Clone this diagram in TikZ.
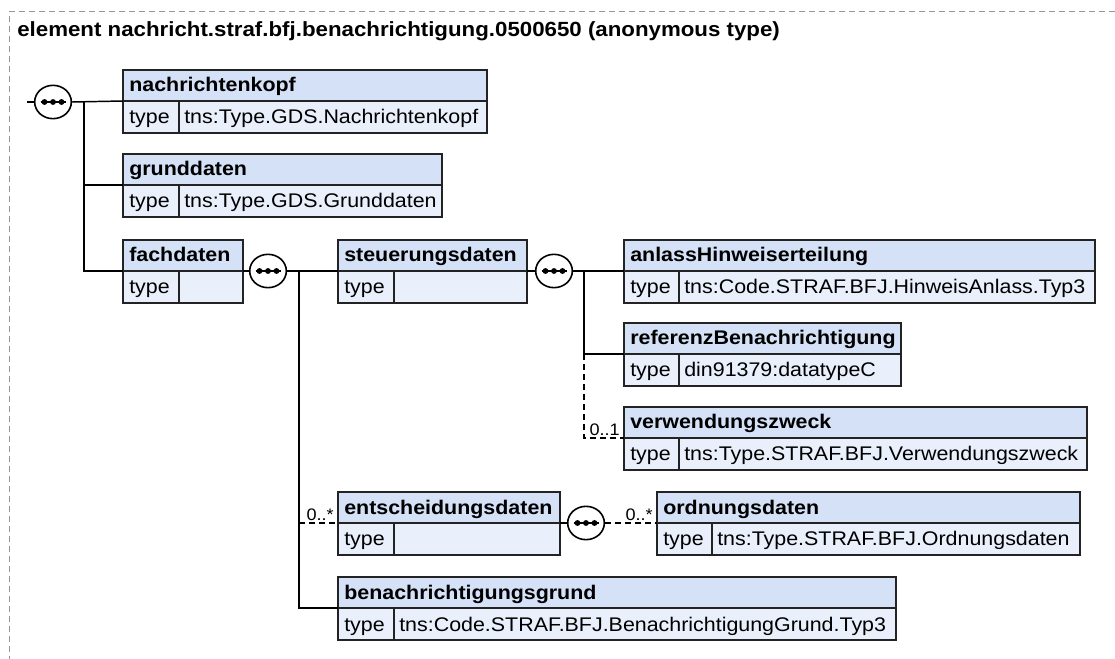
\documentclass[tikz,border=0pt]{standalone}
\usepackage{fontspec}
\setmainfont{Liberation Sans}
\usetikzlibrary{shapes.geometric}
\definecolor{hdrfill}{RGB}{212,225,246}
\definecolor{rowfill}{RGB}{233,240,252}
\definecolor{boxline}{RGB}{35,35,35}
\definecolor{framecol}{RGB}{150,150,150}
\tikzset{
  boxedge/.style={draw=boxline, line width=1.6pt},
  conn/.style={draw=black, line width=1.1pt},
  optconn/.style={conn, dash pattern=on 4.5pt off 3pt},
  txt/.style={inner sep=0pt, xscale=1.085, transform shape, font=\fontsize{14.8}{17}\selectfont, anchor=base west},
  hdtxt/.style={txt, font=\fontsize{14.8}{17}\selectfont\bfseries},
  cardtxt/.style={inner sep=0pt, xscale=1.085, transform shape, font=\fontsize{12.5}{14}\selectfont, anchor=base east},
  seqnode/.style={ellipse, draw=black, line width=1.2pt, fill=white, minimum width=27.5pt, minimum height=25pt, inner sep=0pt},
  titletxt/.style={inner sep=0pt, xscale=1.085, transform shape, anchor=base west, font=\fontsize{15.4}{18}\selectfont\bfseries},
}
\newcommand\elbox[7]{%
  \fill[hdrfill] (#2,#3) rectangle (#4,#3+31);
  \fill[rowfill] (#2,#3+31) rectangle (#4,#3+63);
  \draw[boxedge] (#2,#3) rectangle (#4,#3+63);
  \draw[boxedge] (#2,#3+31) -- (#4,#3+31);
  \draw[boxedge] (#5,#3+31) -- (#5,#3+63);
  \node[hdtxt] (#1-title) at (#2+6,#3+22) {#6};
  \node[txt] (#1-key) at (#2+6,#3+54) {type};
  \node[txt] (#1-val) at (#5+5,#3+54) {#7};
  \coordinate (#1-in) at (#2,#3+31);
  \coordinate (#1-out) at (#4,#3+31);
}
\newcommand\seqicon[3]{%
  \node[seqnode] (#1) at (#2,#3) {};
  \draw[line width=1.1pt] (#2-12.5,#3) -- (#2+12.5,#3);
  \foreach \dx in {-8.5,0,8.5} {\fill (#2+\dx,#3) circle[radius=2.2pt];}
}
\begin{document}
\begin{tikzpicture}[x=0.75pt,y=-0.75pt]
\useasboundingbox (0,0) rectangle (1115,659);
\fill[white] (0,0) rectangle (1115,659);
\draw[framecol, line width=0.75pt, dash pattern=on 4.5pt off 3pt] (1115,12) -- (9,12) -- (9,659);
\node[titletxt] (title) at (17,37) {element nachricht.straf.bfj.benachrichtigung.0500650 (anonymous type)};

\elbox{nk}{123}{70}{487}{179}{nachrichtenkopf}{tns:Type.GDS.Nachrichtenkopf}
\elbox{gd}{123}{154}{442}{179}{grunddaten}{tns:Type.GDS.Grunddaten}
\elbox{fd}{123}{240}{243}{179}{fachdaten}{}
\elbox{sd}{338}{240}{527}{394}{steuerungsdaten}{}
\elbox{ah}{624}{240}{1095}{679}{anlassHinweiserteilung}{tns:Code.STRAF.BFJ.HinweisAnlass.Typ3}
\elbox{rb}{624}{323}{901}{679}{referenzBenachrichtigung}{din91379:datatypeC}
\elbox{vz}{624}{407}{1087}{679}{verwendungszweck}{tns:Type.STRAF.BFJ.Verwendungszweck}
\elbox{ed}{338}{492}{560}{394}{entscheidungsdaten}{}
\elbox{od}{657}{492}{1080}{712}{ordnungsdaten}{tns:Type.STRAF.BFJ.Ordnungsdaten}
\elbox{bg}{338}{577}{896}{394}{benachrichtigungsgrund}{tns:Code.STRAF.BFJ.BenachrichtigungGrund.Typ3}

\seqicon{s1}{53}{102}
\seqicon{s2}{268}{271}
\seqicon{s3}{554}{271}
\seqicon{s4}{586}{523}

\coordinate (rootin) at (27,102);
\coordinate (bar1) at (84,102);
\coordinate (bar2) at (299,271);
\coordinate (bar3) at (584,271);
\coordinate (bar2e) at (299,523);
\coordinate (bar3v) at (584,354);

\draw[conn] (rootin) -- (s1.west);
\draw[conn] (s1.east) -- (nk-in);
\draw[conn] (bar1) |- (gd-in);
\draw[conn] (bar1) |- (fd-in);
\draw[conn] (fd-out) -- (s2.west);
\draw[conn] (s2.east) -- (sd-in);
\draw[conn] (bar2) |- (bg-in);
\draw[optconn] (bar2e) -- (ed-in);
\draw[conn] (sd-out) -- (s3.west);
\draw[conn] (s3.east) -- (ah-in);
\draw[conn] (bar3) |- (rb-in);
\draw[optconn] (bar3v) |- (vz-in);
\draw[conn] (ed-out) -- (s4.west);
\draw[optconn] (s4.east) -- (od-in);

\node[cardtxt] (c1) at ([xshift=-3pt,yshift=2pt]ed-in) {0..*};
\node[cardtxt] (c2) at ([xshift=-3pt,yshift=2pt]vz-in) {0..1};
\node[cardtxt] (c3) at ([xshift=-3pt,yshift=2pt]od-in) {0..*};
\end{tikzpicture}
\end{document}
